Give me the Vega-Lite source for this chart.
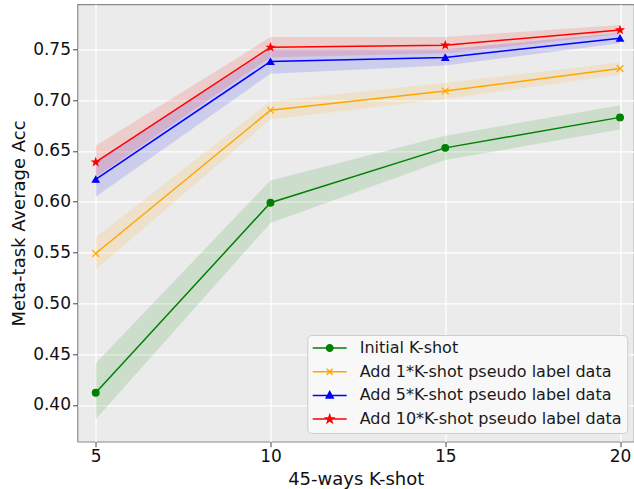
{
  "$schema": "https://vega.github.io/schema/vega-lite/v6.json",
  "width": 556.5,
  "height": 437.4,
  "autosize": {"type": "none"},
  "padding": {"left": 77.5, "top": 4.3, "right": 0, "bottom": 47.3},
  "background": "white",
  "config": {
    "font": "DejaVu Sans",
    "view": {"fill": "#ebebeb", "stroke": "#8a8a8a", "strokeWidth": 1.2},
    "axis": {
      "labelFont": "DejaVu Sans",
      "titleFont": "DejaVu Sans",
      "labelFontSize": 17,
      "titleFontSize": 18,
      "titleFontWeight": "normal",
      "labelColor": "#111111",
      "titleColor": "#111111",
      "grid": true,
      "gridColor": "#ffffff",
      "gridWidth": 1.3,
      "domain": false,
      "tickColor": "#444444",
      "tickSize": 5,
      "tickWidth": 1,
      "labelPadding": 2
    }
  },
  "data": {
    "values": [
      {"k": 5, "series": "Initial K-shot", "acc": 0.412, "lo": 0.386, "hi": 0.441},
      {"k": 10, "series": "Initial K-shot", "acc": 0.599, "lo": 0.579, "hi": 0.621},
      {"k": 15, "series": "Initial K-shot", "acc": 0.653, "lo": 0.641, "hi": 0.665},
      {"k": 20, "series": "Initial K-shot", "acc": 0.683, "lo": 0.671, "hi": 0.695},
      {"k": 5, "series": "Add 1*K-shot pseudo label data", "acc": 0.549, "lo": 0.533, "hi": 0.565},
      {"k": 10, "series": "Add 1*K-shot pseudo label data", "acc": 0.690, "lo": 0.681, "hi": 0.699},
      {"k": 15, "series": "Add 1*K-shot pseudo label data", "acc": 0.709, "lo": 0.701, "hi": 0.717},
      {"k": 20, "series": "Add 1*K-shot pseudo label data", "acc": 0.731, "lo": 0.725, "hi": 0.737},
      {"k": 5, "series": "Add 5*K-shot pseudo label data", "acc": 0.622, "lo": 0.605, "hi": 0.640},
      {"k": 10, "series": "Add 5*K-shot pseudo label data", "acc": 0.738, "lo": 0.726, "hi": 0.750},
      {"k": 15, "series": "Add 5*K-shot pseudo label data", "acc": 0.742, "lo": 0.734, "hi": 0.750},
      {"k": 20, "series": "Add 5*K-shot pseudo label data", "acc": 0.761, "lo": 0.756, "hi": 0.766},
      {"k": 5, "series": "Add 10*K-shot pseudo label data", "acc": 0.639, "lo": 0.624, "hi": 0.655},
      {"k": 10, "series": "Add 10*K-shot pseudo label data", "acc": 0.752, "lo": 0.742, "hi": 0.762},
      {"k": 15, "series": "Add 10*K-shot pseudo label data", "acc": 0.754, "lo": 0.746, "hi": 0.762},
      {"k": 20, "series": "Add 10*K-shot pseudo label data", "acc": 0.769, "lo": 0.765, "hi": 0.774}
    ]
  },
  "resolve": {"scale": {"shape": "independent", "stroke": "independent", "fill": "independent"}},
  "encoding": {
    "x": {
      "field": "k",
      "type": "quantitative",
      "scale": {"domain": [4.479, 20.4], "nice": false, "zero": false},
      "axis": {"values": [5, 10, 15, 20], "title": "45-ways K-shot", "titlePadding": 6}
    },
    "color": {
      "field": "series",
      "type": "nominal",
      "scale": {
        "domain": ["Initial K-shot", "Add 1*K-shot pseudo label data", "Add 5*K-shot pseudo label data", "Add 10*K-shot pseudo label data"],
        "range": ["#008000", "#FFA500", "#0000FF", "#FF0000"]
      },
      "legend": null
    }
  },
  "layer": [
    {
      "mark": {"type": "area", "opacity": 0.13},
      "encoding": {
        "y": {"field": "lo", "type": "quantitative"},
        "y2": {"field": "hi"}
      }
    },
    {
      "mark": {"type": "line", "strokeWidth": 1.5},
      "encoding": {
        "y": {
          "field": "acc",
          "type": "quantitative",
          "scale": {"domain": [0.3638, 0.7943], "nice": false, "zero": false},
          "axis": {
            "values": [0.4, 0.45, 0.5, 0.55, 0.6, 0.65, 0.7, 0.75],
            "format": ".2f",
            "title": "Meta-task Average Acc",
            "titlePadding": 4
          }
        }
      }
    },
    {
      "mark": {"type": "point", "filled": true, "size": 45, "strokeWidth": 1.2, "opacity": 1},
      "encoding": {
        "y": {"field": "acc", "type": "quantitative"},
        "shape": {
          "field": "series",
          "type": "nominal",
          "scale": {
            "domain": ["Initial K-shot", "Add 1*K-shot pseudo label data", "Add 5*K-shot pseudo label data", "Add 10*K-shot pseudo label data"],
            "range": ["circle", "M-1,-1L1,1M-1,1L1,-1", "triangle-up", "M0,-1.05L0.247,-0.34L0.999,-0.324L0.4,0.13L0.617,0.849L0,0.42L-0.617,0.849L-0.4,0.13L-0.999,-0.324L-0.247,-0.34Z"]
          },
          "legend": null
        },
        "stroke": {
          "field": "series",
          "type": "nominal",
          "scale": {
            "domain": ["Initial K-shot", "Add 1*K-shot pseudo label data", "Add 5*K-shot pseudo label data", "Add 10*K-shot pseudo label data"],
            "range": ["#008000", "#FFA500", "#0000FF", "#FF0000"]
          },
          "legend": null
        }
      }
    },
    {
      "transform": [{"filter": {"field": "k", "lt": 0}}],
      "mark": {"type": "point", "filled": true, "strokeWidth": 1.5, "opacity": 1},
      "encoding": {
        "y": {"field": "acc", "type": "quantitative"},
        "color": {"value": null},
        "fill": {
          "field": "series",
          "type": "nominal",
          "scale": {
            "domain": ["Initial K-shot", "Add 1*K-shot pseudo label data", "Add 5*K-shot pseudo label data", "Add 10*K-shot pseudo label data"],
            "range": ["#008000", "#FFA500", "#0000FF", "#FF0000"]
          },
          "legend": {
            "orient": "none",
            "legendX": 229.8,
            "legendY": 330.7,
            "title": null,
            "labelFont": "DejaVu Sans",
            "labelFontSize": 16,
            "labelColor": "#1a1a1a",
            "labelLimit": 400,
            "symbolSize": 100,
            "symbolStrokeWidth": 1.5,
            "symbolOpacity": 1,
            "symbolOffset": 9.4,
            "labelOffset": 22,
            "rowPadding": 7.7,
            "padding": 5,
            "fillColor": "#f8f8f8",
            "strokeColor": "#cccccc",
            "cornerRadius": 4
          }
        },
        "stroke": {
          "field": "series",
          "type": "nominal",
          "scale": {
            "domain": ["Initial K-shot", "Add 1*K-shot pseudo label data", "Add 5*K-shot pseudo label data", "Add 10*K-shot pseudo label data"],
            "range": ["#008000", "#FFA500", "#0000FF", "#FF0000"]
          }
        },
        "shape": {
          "field": "series",
          "type": "nominal",
          "scale": {
            "domain": ["Initial K-shot", "Add 1*K-shot pseudo label data", "Add 5*K-shot pseudo label data", "Add 10*K-shot pseudo label data"],
            "range": [
              "M-3.4,0L3.4,0M-0.65,0A0.65,0.65,0,1,1,0.65,0A0.65,0.65,0,1,1,-0.65,0Z",
              "M-3.4,0L3.4,0M-0.6,-0.6L0.6,0.6M-0.6,0.6L0.6,-0.6",
              "M-3.4,0L3.4,0M0,-0.75L0.7,0.5L-0.7,0.5Z",
              "M-3.4,0L3.4,0M0,-0.8L0.188,-0.259L0.761,-0.247L0.304,0.099L0.47,0.647L0,0.32L-0.47,0.647L-0.304,0.099L-0.761,-0.247L-0.188,-0.259Z"
            ]
          }
        }
      }
    }
  ]
}
